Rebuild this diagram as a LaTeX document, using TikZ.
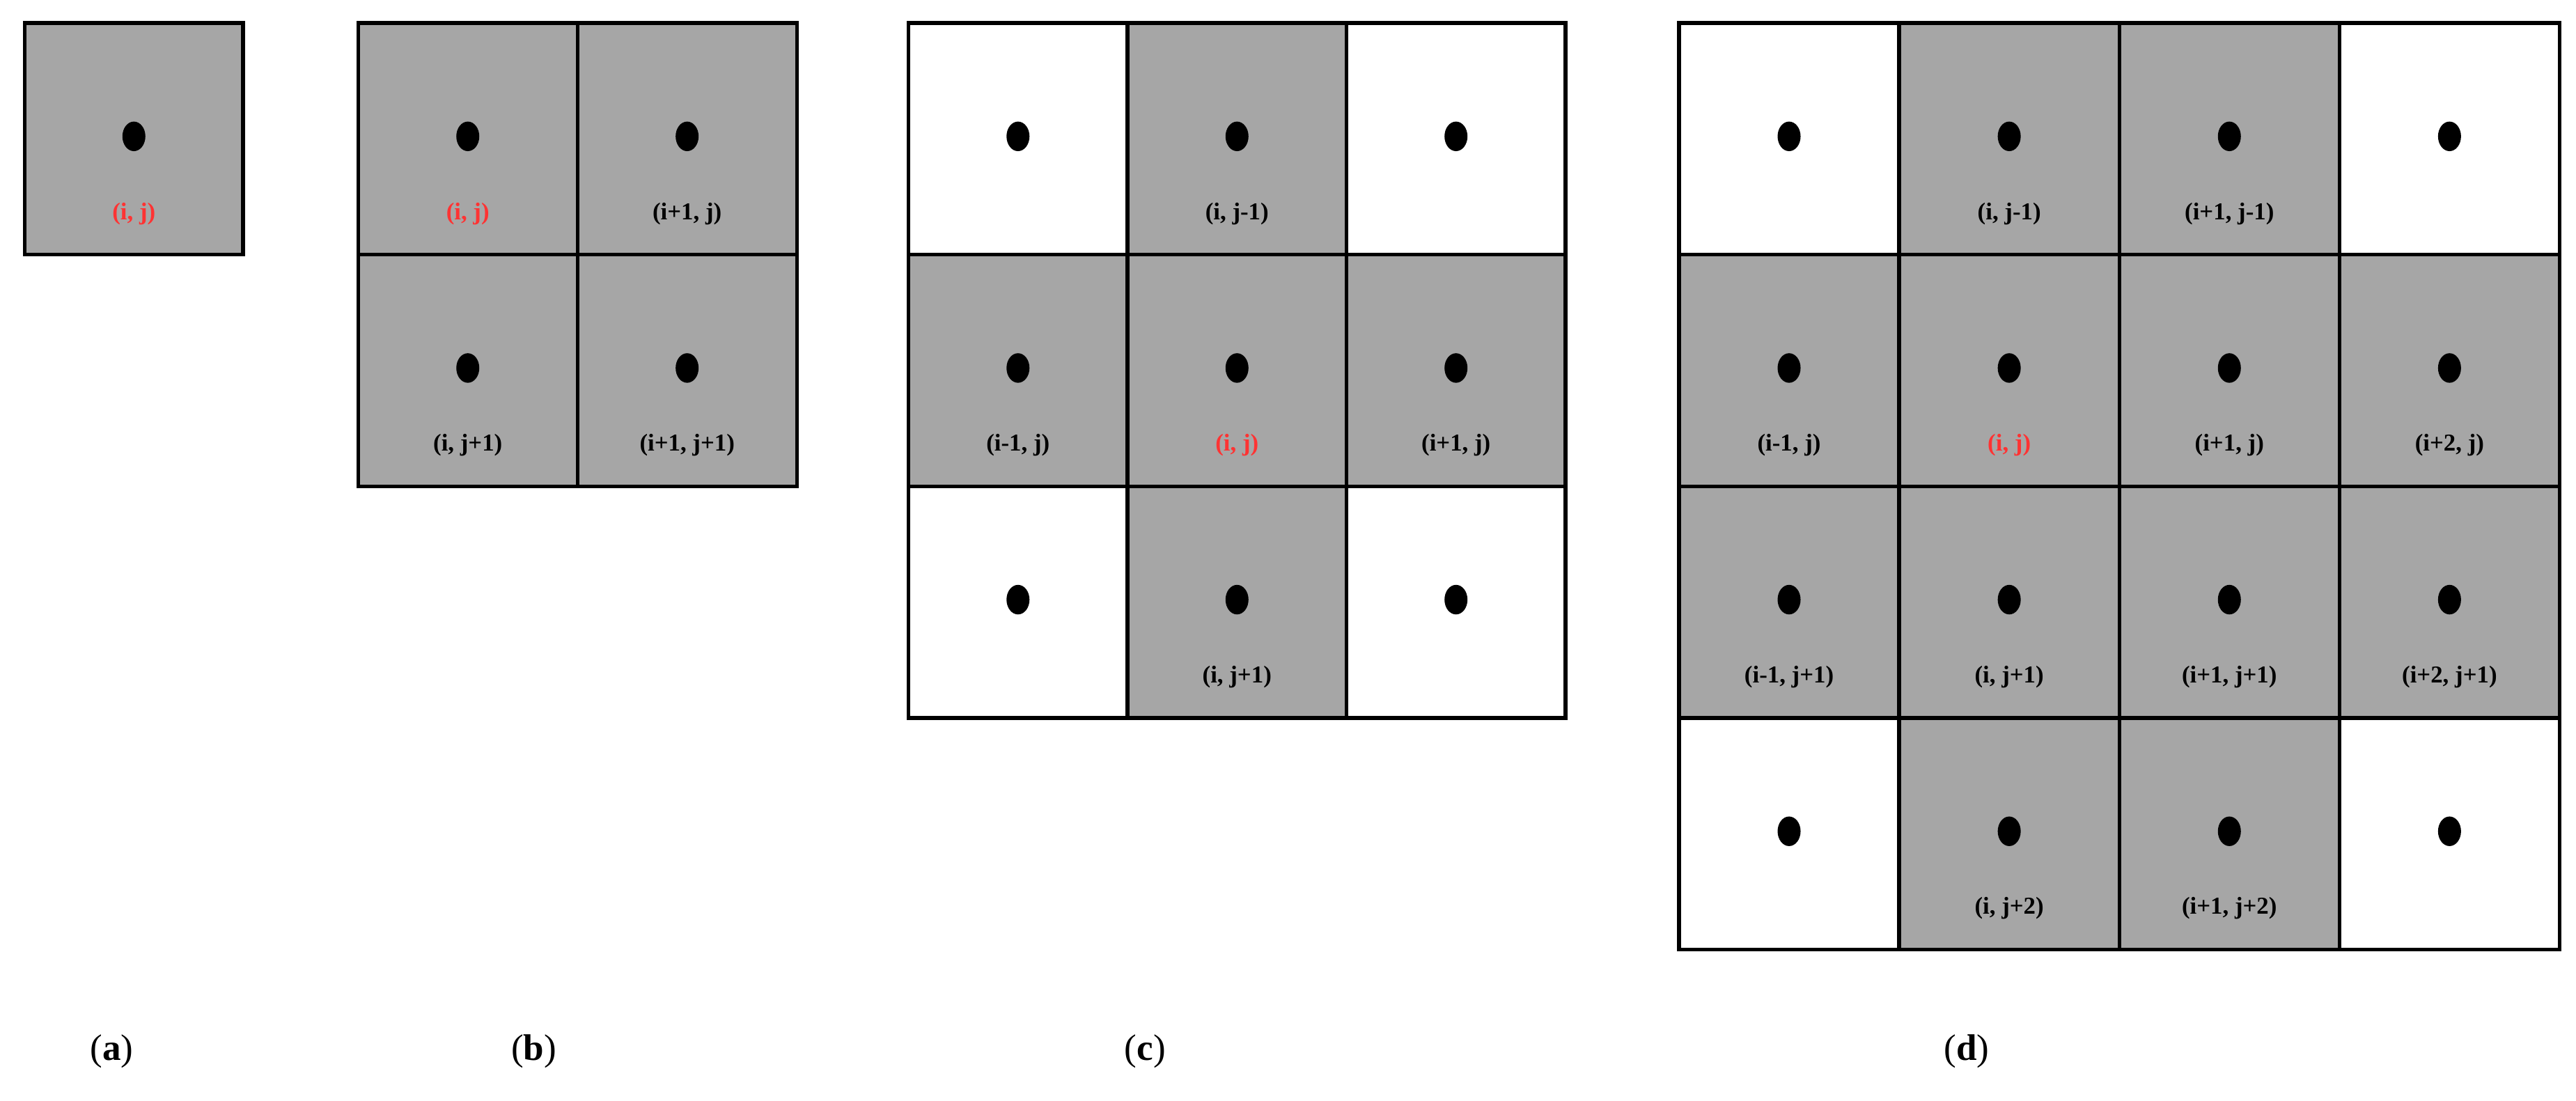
\documentclass[tikz,border=0pt]{standalone}
\usepackage{fontspec}
\setmainfont{Liberation Serif}
\usetikzlibrary{shapes.geometric}
\begin{document}
\begin{tikzpicture}[x=0.05cm,y=-0.05cm,
  cellg/.style={draw=black,line width=3.2pt,fill=gray!70},
  cellw/.style={draw=black,line width=3.2pt,fill=white},
  dot/.style={fill=black,ellipse,minimum width=0.7cm,minimum height=0.9cm,inner sep=0pt},
  lab/.style={font=\fontsize{21}{24}\selectfont\bfseries,inner sep=0pt},
  captxt/.style={font=\fontsize{32}{36}\selectfont,inner sep=0pt}]
\useasboundingbox (0,0) rectangle (1568,670);
% \mycell{left}{top}{w}{style}{label}{color}{name}
\newcommand\mycell[7]{%
  \draw[#4] (#1,#2) rectangle ({#1+#3},{#2+141});
  \node[dot] (#7d) at ({#1+#3/2},{#2+69}) {};
  \node[lab,text=#6] (#7l) at ({#1+#3/2},{#2+116}) {#5};}
% (a)
\mycell{15}{14}{133}{cellg}{(i, j)}{red!80}{a}
% (b)
\mycell{218}{14}{133.5}{cellg}{(i, j)}{red!80}{b1}
\mycell{351.5}{14}{133.5}{cellg}{(i+1, j)}{black}{b2}
\mycell{218}{155}{133.5}{cellg}{(i, j+1)}{black}{b3}
\mycell{351.5}{155}{133.5}{cellg}{(i+1, j+1)}{black}{b4}
% (c)
\mycell{553}{14}{133.3}{cellw}{}{black}{c1}
\mycell{686.3}{14}{133.3}{cellg}{(i, j-1)}{black}{c2}
\mycell{819.6}{14}{133.3}{cellw}{}{black}{c3}
\mycell{553}{155}{133.3}{cellg}{(i-1, j)}{black}{c4}
\mycell{686.3}{155}{133.3}{cellg}{(i, j)}{red!80}{c5}
\mycell{819.6}{155}{133.3}{cellg}{(i+1, j)}{black}{c6}
\mycell{553}{296}{133.3}{cellw}{}{black}{c7}
\mycell{686.3}{296}{133.3}{cellg}{(i, j+1)}{black}{c8}
\mycell{819.6}{296}{133.3}{cellw}{}{black}{c9}
% (d)
\mycell{1022}{14}{134}{cellw}{}{black}{d1}
\mycell{1156}{14}{134}{cellg}{(i, j-1)}{black}{d2}
\mycell{1290}{14}{134}{cellg}{(i+1, j-1)}{black}{d3}
\mycell{1424}{14}{134}{cellw}{}{black}{d4}
\mycell{1022}{155}{134}{cellg}{(i-1, j)}{black}{d5}
\mycell{1156}{155}{134}{cellg}{(i, j)}{red!80}{d6}
\mycell{1290}{155}{134}{cellg}{(i+1, j)}{black}{d7}
\mycell{1424}{155}{134}{cellg}{(i+2, j)}{black}{d8}
\mycell{1022}{296}{134}{cellg}{(i-1, j+1)}{black}{d9}
\mycell{1156}{296}{134}{cellg}{(i, j+1)}{black}{d10}
\mycell{1290}{296}{134}{cellg}{(i+1, j+1)}{black}{d11}
\mycell{1424}{296}{134}{cellg}{(i+2, j+1)}{black}{d12}
\mycell{1022}{437}{134}{cellw}{}{black}{d13}
\mycell{1156}{437}{134}{cellg}{(i, j+2)}{black}{d14}
\mycell{1290}{437}{134}{cellg}{(i+1, j+2)}{black}{d15}
\mycell{1424}{437}{134}{cellw}{}{black}{d16}
% captions
\node[captxt] (capa) at (68,640) {(\textbf{a})};
\node[captxt] (capb) at (325,640) {(\textbf{b})};
\node[captxt] (capc) at (697,640) {(\textbf{c})};
\node[captxt] (capd) at (1197,640) {(\textbf{d})};
\end{tikzpicture}
\end{document}
